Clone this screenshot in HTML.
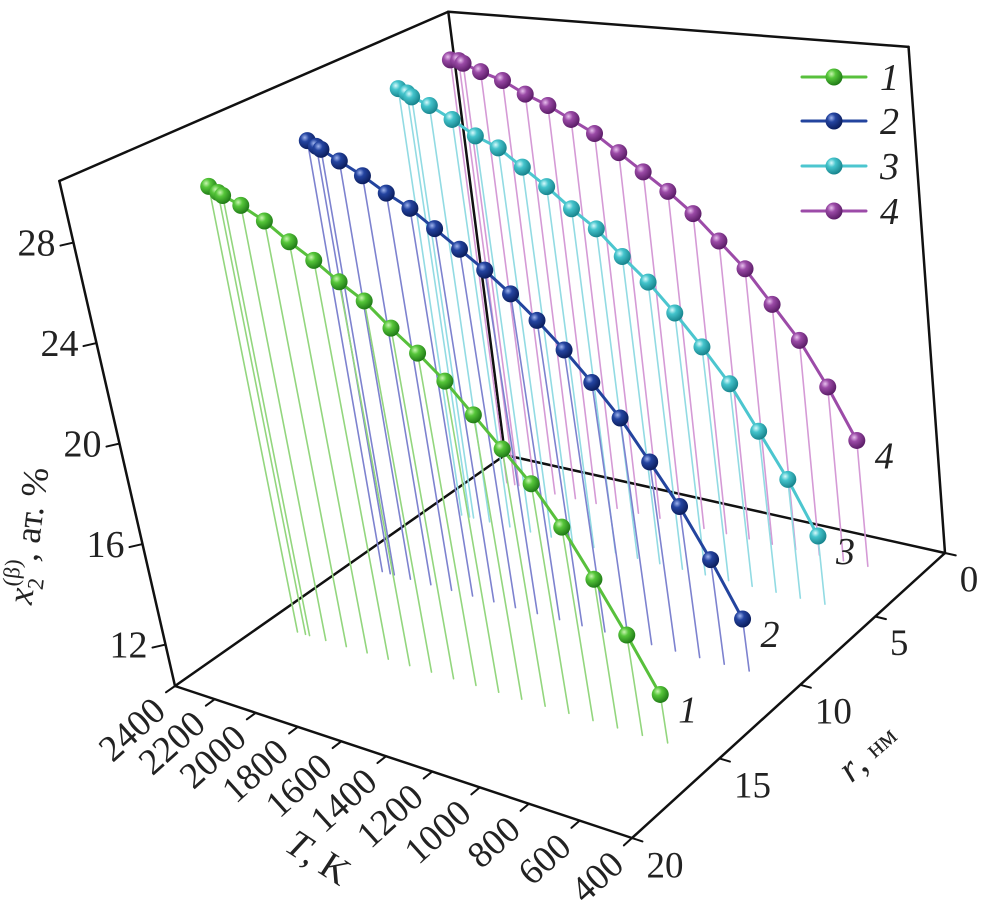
<!DOCTYPE html>
<html><head><meta charset="utf-8"><style>
html,body{margin:0;padding:0;background:#fff;}
svg,svg text,svg tspan{font-family:"Liberation Serif","Times New Roman",serif;}
</style></head><body>
<svg id="chart" xmlns="http://www.w3.org/2000/svg" width="981" height="917" viewBox="0 0 981 917" font-family="Liberation Serif, serif">
<defs>
<radialGradient id="g1" cx="0.35" cy="0.32" r="0.7"><stop offset="0" stop-color="#c8f5b0"/><stop offset="0.35" stop-color="#56c63a"/><stop offset="1" stop-color="#1f7a16"/></radialGradient>
<radialGradient id="g2" cx="0.35" cy="0.32" r="0.7"><stop offset="0" stop-color="#9fb4ee"/><stop offset="0.35" stop-color="#2444a0"/><stop offset="1" stop-color="#0b1d5c"/></radialGradient>
<radialGradient id="g3" cx="0.35" cy="0.32" r="0.7"><stop offset="0" stop-color="#d8fafc"/><stop offset="0.35" stop-color="#44c4cc"/><stop offset="1" stop-color="#17838c"/></radialGradient>
<radialGradient id="g4" cx="0.35" cy="0.32" r="0.7"><stop offset="0" stop-color="#e8c0ee"/><stop offset="0.35" stop-color="#9a4aa6"/><stop offset="1" stop-color="#5a1c66"/></radialGradient>
</defs>
<g id="back"></g>
<g id="series"></g>
<g id="front"></g>
<g id="legend"></g>
<text transform="translate(40,537) rotate(-83)" text-anchor="middle" font-size="36" fill="#222"><tspan font-style="italic">x</tspan><tspan font-size="23" dy="9">2</tspan><tspan font-size="23" dx="-11" dy="-25">(β)</tspan><tspan dy="16">, ат. %</tspan></text>
<text transform="translate(318,858) rotate(33)" text-anchor="middle" dominant-baseline="central" font-size="38" fill="#222"><tspan font-style="italic">T</tspan>, K</text>
<text transform="translate(868,753) rotate(-41)" text-anchor="middle" dominant-baseline="central" font-size="38" fill="#222"><tspan font-style="italic">r</tspan>, <tspan font-size="27">нм</tspan></text>
</svg>
<script>
const T = [2240,2200,2180,2100,2000,1900,1800,1700,1600,1500,1400,1300,1200,1100,1000,900,800,700,600];
const rSeries = [15,10,5,2];
const z1 = [28.5,28.3,28.2,27.9,27.4,26.7,26.1,25.4,24.8,23.9,23.1,22.2,21.1,20.0,18.9,17.5,15.8,14.0,12.1];
const z2 = [28.5,28.3,28.2,27.8,27.3,26.7,26.2,25.5,24.8,24.1,23.3,22.4,21.4,20.3,19.1,17.6,16.1,14.3,12.3];
const z3 = [28.9,28.75,28.6,28.3,27.8,27.2,26.8,26.1,25.4,24.6,23.9,22.9,22.0,20.9,19.7,18.4,16.7,15.0,13.0];
const z4 = [29.1,29.1,29.0,28.7,28.4,27.9,27.5,27.0,26.5,25.8,25.1,24.4,23.6,22.6,21.6,20.3,19.0,17.3,15.35];
const seriesLabels = ["1","2","3","4"];
const zTicks = [12,16,20,24,28];
const tTicks = [2400,2200,2000,1800,1600,1400,1200,1000,800,600,400];
const rTicks = [0,5,10,15,20];

const NS = "http://www.w3.org/2000/svg";
const zmin = 10.35, zmax = 30.45;
const x0=175,y0=686,x1=632,y1=838,x2=945,y2=553,x3=505,y3=455;
const sx=x0-x1+x2-x3, sy=y0-y1+y2-y3;
const dx1=x1-x2, dx2=x3-x2, dy1=y1-y2, dy2=y3-y2;
const den=dx1*dy2-dx2*dy1;
const hg=(sx*dy2-dx2*sy)/den, hh=(dx1*sy-sx*dy1)/den;
const ha=x1-x0+hg*x1, hb=x3-x0+hh*x3, hc=x0;
const hd=y1-y0+hg*y1, he=y3-y0+hh*y3, hf=y0;
function floorUV(u,v){const w=hg*u+hh*v+1;return [(ha*u+hb*v+hc)/w,(hd*u+he*v+hf)/w,w];}
function proj(Tv,r,z){
  const u=(2400-Tv)/2000, v=(20-r)/20;
  const p=floorUV(u,v);
  const H=505/p[2];
  const ratio=(1-u)*(1-v)*0.229+u*(1-v)*0.173+u*v*0.072+(1-u)*v*0.128;
  const f=(z-zmin)/(zmax-zmin);
  return [p[0]-ratio*H*f, p[1]-H*f];
}
function unitDir(p,q){const dx=q[0]-p[0],dy=q[1]-p[1],l=Math.hypot(dx,dy)||1;return [dx/l,dy/l];}
function mk(tag,attrs,parent){const e=document.createElementNS(NS,tag);for(const k in attrs)e.setAttribute(k,attrs[k]);parent.appendChild(e);return e;}
function line(p,q,parent,stroke,w){return mk("line",{x1:p[0],y1:p[1],x2:q[0],y2:q[1],stroke:stroke,"stroke-width":w,"stroke-linecap":"round"},parent);}

const back=document.getElementById("back"), front=document.getElementById("front"), sg=document.getElementById("series"), lg=document.getElementById("legend");
const A=proj(2400,20,zmin),B=proj(400,20,zmin),C=proj(400,0,zmin),D=proj(2400,0,zmin);
const At=proj(2400,20,zmax),Ct=proj(400,0,zmax),Dt=proj(2400,0,zmax);
let el;
el=line(D,A,back,"#111",2.5);


el=line(D,C,back,"#111",2.5);


el=line(D,Dt,back,"#111",2.5);


el=line(At,Dt,back,"#111",2.5);


el=line(Dt,Ct,back,"#111",2.5);


el=line(C,Ct,back,"#111",2.5);



const zs=[z1,z2,z3,z4];
const lineCol=["#58c03c","#23449e","#4cc6cf","#9c4ba8"];
const dropCol=["#93d67e","#7d82cf","#92dbe3","#d59ad6"];
const grads=["g1","g2","g3","g4"];
for(let s=3;s>=0;s--){
  const g=mk("g",{},sg);
  
  
  const pts=T.map((t,i)=>proj(t,rSeries[s],zs[s][i]));
  T.forEach((t,i)=>{
    const d=line(pts[i],proj(t,rSeries[s],zmin),g,dropCol[s],1.6);
    
    
  });
  const pl=mk("polyline",{points:pts.map(p=>p[0].toFixed(1)+","+p[1].toFixed(1)).join(" "),fill:"none",stroke:lineCol[s],"stroke-width":3},g);
  
  
  pts.forEach(p=>{
    const c=mk("circle",{cx:p[0],cy:p[1],r:8.5,fill:"url(#"+grads[s]+")"},g);
    
    
  });
  const last=pts[pts.length-1];
  const lb=mk("text",{x:last[0]+18,y:last[1]+28,"font-size":38,"font-style":"italic",fill:"#222"},g);
  lb.textContent=seriesLabels[s];
  
  
}

el=line(A,B,front,"#111",2.5);


el=line(B,C,front,"#111",2.5);


el=line(A,At,front,"#111",2.5);



zTicks.forEach(z=>{
  const p=proj(2400,20,z);
  const q=[p[0]-13,p[1]+3];
  const t=line(p,q,front,"#111",2);
  
  
  const tx=mk("text",{x:q[0]-5,y:q[1]+10,"text-anchor":"end","font-size":38,fill:"#222"},front);
  tx.textContent=z;
  
  
});
tTicks.forEach(tv=>{
  const p=proj(tv,20,zmin);
  const dv=unitDir(p,proj(tv,20.5,zmin));
  const q=[p[0]+dv[0]*11,p[1]+dv[1]*11];
  const t=line(p,q,front,"#111",2);
  
  
  const a=[p[0]+dv[0]*16-2,p[1]+dv[1]*16+10];
  const tx=mk("text",{x:0,y:0,transform:"translate("+a[0].toFixed(1)+","+a[1].toFixed(1)+") rotate(-42)","text-anchor":"end","dominant-baseline":"central","font-size":37,fill:"#222"},front);
  tx.textContent=tv;
  
  
});
rTicks.forEach(rv=>{
  const p=proj(400,rv,zmin);
  const dv=unitDir(p,proj(380,rv,zmin));
  const q=[p[0]+dv[0]*11,p[1]+dv[1]*11];
  const t=line(p,q,front,"#111",2);
  
  
  const tx=mk("text",{x:q[0]+4,y:q[1]+36,"font-size":37,fill:"#222"},front);
  tx.textContent=rv;
  
  
});

const legY=[77,121,166,211];
for(let s=0;s<4;s++){
  const g=mk("g",{},lg);
  
  
  const l=line([802,legY[s]],[866,legY[s]],g,lineCol[s],3);
  
  
  const c=mk("circle",{cx:834,cy:legY[s],r:8.5,fill:"url(#"+grads[s]+")"},g);
  
  
  const tx=mk("text",{x:880,y:legY[s]+13,"font-size":38,"font-style":"italic",fill:"#222"},g);
  tx.textContent=seriesLabels[s];
  
  
}
</script>
</body></html>
